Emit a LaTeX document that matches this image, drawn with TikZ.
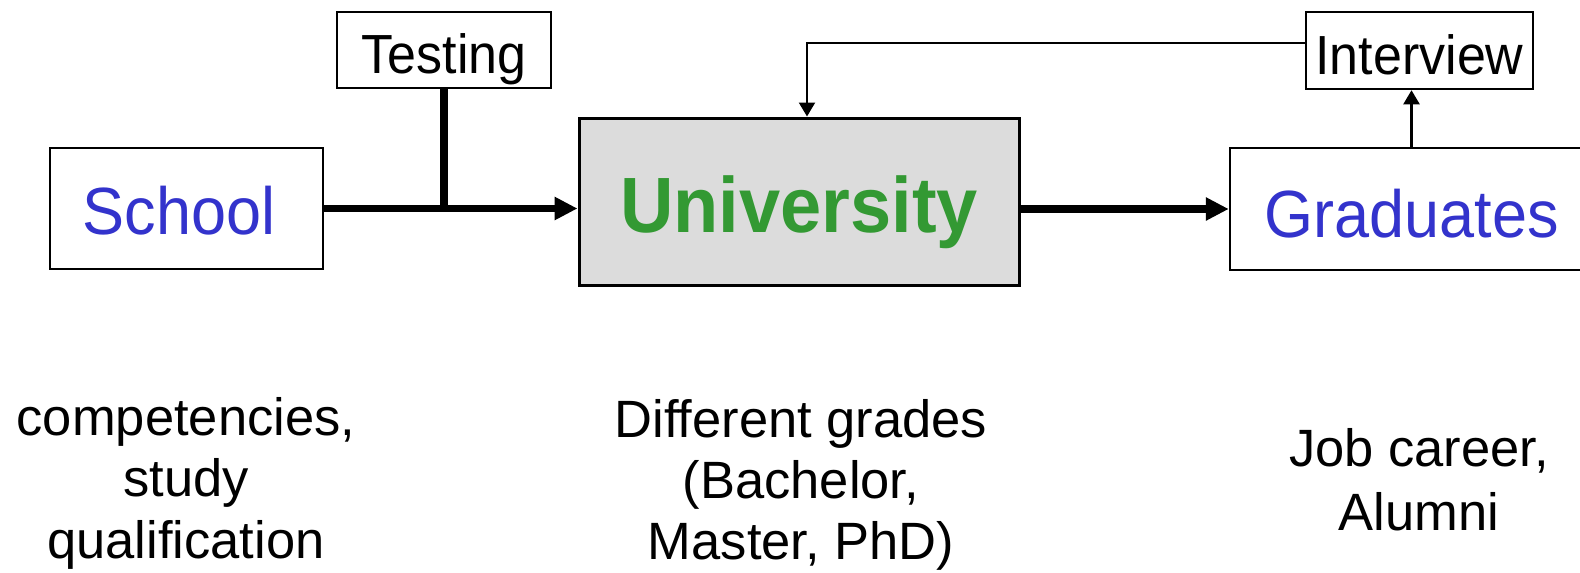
\documentclass[tikz,border=0pt]{standalone}
\usepackage{fontspec}
\usepackage{graphicx}
\setmainfont{Liberation Sans}
\usetikzlibrary{arrows.meta}
\definecolor{nblue}{HTML}{3333CC}
\definecolor{ngreen}{HTML}{339933}
\definecolor{ugray}{HTML}{DCDCDC}
\newcommand{\vstr}[1]{\scalebox{1}[1.06]{#1}}
\begin{document}
\begin{tikzpicture}[x=1pt,y=-1pt,
 box/.style={draw=black, line width=2.5pt, rectangle, inner sep=0pt, text depth=0pt},
 thickline/.style={line width=7.5pt},
 thinline/.style={line width=2.2pt},
 bigtip/.style={-{Triangle[length=23pt,width=22pt]}},
 smalltip/.style={-{Triangle[length=14pt,width=16pt]}},
 lbl/.style={align=center, anchor=base}]
\clip (0,0) rectangle (1580,573);
\fill[white] (0,0) rectangle (1580,573);
% boxes
\node[box, minimum width=273pt, minimum height=121pt, text=nblue, text height=51pt,
      font=\fontsize{63}{70}\selectfont] (school) at (186.5,208.5) {\vstr{School}\hspace*{15pt}};
\node[box, minimum width=214pt, minimum height=76pt, text height=46pt,
      font=\fontsize{52}{60}\selectfont] (testing) at (444,50) {\vstr{Testing}};
\node[box, line width=3pt, fill=ugray, minimum width=440pt, minimum height=167pt, text=ngreen,
      text height=61pt, font=\fontsize{74}{80}\selectfont\bfseries] (uni) at (799,201.5) {\vstr{University}};
\node[box, minimum width=363pt, minimum height=122pt, text=nblue, text height=56pt,
      font=\fontsize{63}{70}\selectfont] (grad) at (1411.5,209) {\vstr{Graduates}};
\node[box, minimum width=227pt, minimum height=77pt, text height=47pt,
      font=\fontsize{52}{60}\selectfont] (interview) at (1419.5,50.5) {\vstr{Interview}};
% connectors
\draw[thickline, bigtip] (school.east) -- (school.east -| uni.west);
\draw[thickline] (testing.south) -- (testing.south |- school.east);
\draw[thickline, bigtip] (grad.west -| uni.east) -- (grad.west);
\draw[thinline, smalltip] (grad.north) -- (grad.north |- interview.south);
\coordinate (fb) at ([yshift=7.5pt]interview.west);
\coordinate (ut) at ([xshift=8pt]uni.north);
\draw[thinline, smalltip] (fb) -| (ut);
% labels (anchor base = baseline of the last line)
\node[lbl, font=\fontsize{52.5}{61.5}\selectfont] (l1) at (186,558) {competencies,\\study\\qualification};
\node[lbl, font=\fontsize{52.5}{61}\selectfont] (l2) at (801,559) {Different grades\\(Bachelor,\\Master, PhD)};
\node[lbl, font=\fontsize{52.5}{64}\selectfont] (l3) at (1419,530) {Job career,\\Alumni};
\end{tikzpicture}
\end{document}
